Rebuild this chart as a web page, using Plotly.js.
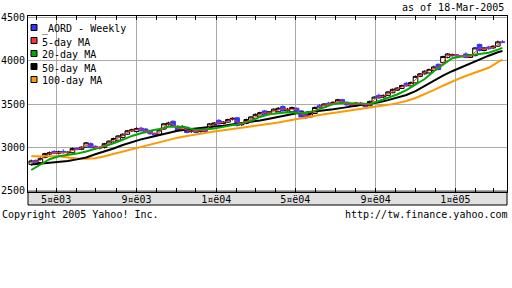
<!DOCTYPE html>
<html><head><meta charset="utf-8">
<script src="https://cdn.plot.ly/plotly-3.0.1.min.js"></script>
<style>html,body{margin:0;padding:0;background:#fff;}#chart{width:512px;height:288px;}</style>
</head><body><div id="chart"></div>
<script>
// ---- data (weekly, Monday dates starting 2003-03-24) ----
const startDate = '2003-03-24';
const weekCount = 104;
const openVals = [2800,2845,2820,2880,2920,2950,2930,2950,2935,2935,2985,2975,3000,3040,3010,2990,2995,3030,3060,3080,3110,3150,3190,3180,3220,3210,3185,3160,3150,3210,3260,3300,3240,3195,3230,3180,3205,3180,3220,3215,3260,3310,3275,3290,3320,3340,3260,3275,3300,3330,3360,3420,3380,3390,3410,3470,3420,3410,3450,3420,3380,3350,3390,3480,3460,3510,3500,3510,3550,3520,3500,3480,3510,3500,3480,3520,3600,3580,3600,3630,3660,3680,3740,3710,3745,3820,3850,3860,3890,3960,3980,4040,4060,4070,4060,4080,4040,4060,4190,4120,4160,4150,4170,4220];
const highVals = [2855,2860,2880,2935,2950,2965,2960,2975,2955,2995,3000,3010,3060,3055,3020,3010,3050,3080,3110,3140,3160,3200,3215,3230,3235,3220,3195,3170,3210,3280,3295,3310,3250,3255,3240,3205,3215,3210,3230,3280,3290,3325,3300,3330,3345,3350,3285,3330,3360,3390,3410,3430,3420,3450,3465,3485,3455,3470,3460,3430,3390,3400,3470,3500,3510,3525,3530,3560,3560,3530,3510,3525,3525,3510,3540,3590,3620,3610,3650,3680,3695,3725,3755,3760,3830,3860,3890,3910,3945,3970,4060,4090,4085,4080,4070,4100,4080,4160,4200,4160,4175,4180,4235,4240];
const lowVals = [2785,2805,2810,2870,2905,2920,2915,2925,2920,2925,2960,2965,2990,2985,2970,2975,2985,3020,3050,3075,3100,3140,3175,3170,3180,3160,3145,3130,3140,3200,3250,3230,3180,3185,3160,3165,3160,3170,3165,3205,3250,3260,3265,3280,3310,3240,3245,3265,3295,3325,3355,3370,3370,3385,3405,3410,3410,3400,3400,3340,3325,3340,3385,3450,3455,3480,3490,3505,3500,3480,3465,3470,3490,3460,3475,3515,3560,3570,3595,3625,3650,3675,3700,3705,3740,3810,3840,3855,3885,3890,3975,4030,4050,4045,4040,4030,4035,4055,4110,4110,4130,4140,4165,4205];
const closeVals = [2840,2820,2870,2925,2935,2930,2945,2935,2940,2985,2975,3000,3050,2995,2985,2995,3040,3070,3100,3130,3150,3190,3200,3215,3190,3170,3155,3140,3200,3270,3280,3240,3190,3240,3170,3190,3170,3195,3180,3270,3280,3270,3290,3320,3335,3250,3270,3320,3350,3380,3400,3380,3410,3440,3450,3420,3440,3460,3410,3350,3340,3390,3460,3460,3500,3490,3520,3550,3510,3490,3480,3510,3500,3470,3530,3580,3570,3600,3640,3670,3685,3715,3710,3750,3820,3850,3880,3900,3930,3900,4050,4080,4070,4060,4050,4040,4070,4150,4120,4150,4140,4170,4220,4215];
// 5-day moving average, read for every week
const ma5 = [2825,2830,2845,2895,2928,2938,2938,2942,2938,2960,2978,2990,3020,3015,2998,2993,3015,3050,3080,3105,3130,3170,3195,3200,3205,3190,3170,3150,3170,3235,3270,3270,3215,3215,3200,3185,3185,3188,3195,3240,3270,3288,3285,3305,3328,3295,3265,3295,3325,3355,3380,3400,3395,3415,3430,3445,3430,3440,3435,3385,3360,3365,3420,3470,3480,3500,3505,3530,3530,3505,3490,3495,3505,3490,3500,3550,3585,3590,3620,3650,3672,3698,3720,3730,3780,3835,3865,3885,3912,3930,3975,4060,4068,4065,4058,4055,4050,4100,4150,4135,4150,4155,4190,4215];
// slower moving averages, read every second week (week index in maWeek)
const maWeek = [0,2,4,6,8,10,12,14,16,18,20,22,24,26,28,30,32,34,36,38,40,42,44,46,48,50,52,54,56,58,60,62,64,66,68,70,72,74,76,78,80,82,84,86,88,90,92,94,96,98,100,102,103];
const ma20 = [2735,2800,2860,2895,2910,2925,2950,2980,3010,3045,3085,3130,3160,3190,3210,3235,3240,3225,3200,3205,3215,3235,3255,3275,3305,3350,3380,3395,3405,3400,3395,3420,3460,3500,3512,3508,3497,3500,3535,3575,3610,3660,3720,3790,3880,3960,4030,4050,4065,4080,4095,4130,4150];
const ma50 = [2800,2810,2818,2825,2840,2858,2880,2918,2950,2985,3025,3060,3090,3115,3140,3165,3190,3205,3218,3228,3238,3248,3262,3278,3292,3310,3330,3352,3372,3392,3402,3412,3425,3440,3455,3470,3485,3500,3520,3545,3575,3605,3650,3710,3765,3830,3880,3925,3975,4020,4060,4100,4115];
const ma100 = [2895,2897,2897,2893,2880,2868,2866,2872,2895,2922,2950,2980,3005,3035,3060,3085,3110,3130,3150,3165,3180,3195,3210,3225,3235,3250,3268,3285,3305,3325,3345,3365,3380,3395,3410,3425,3445,3458,3470,3490,3510,3535,3570,3612,3660,3712,3762,3805,3845,3880,3920,3985,4015];
// axis ticks and legend
const yTickVals = [2500,3000,3500,4000,4500];
const xTickVals = ['2003-05-01','2003-09-01','2004-01-01','2004-05-01','2004-09-01','2005-01-01'];
const xTickText = ['5¤ë03','9¤ë03','1¤ë04','5¤ë04','9¤ë04','1¤ë05'];
const legendLabels = ['_AORD - Weekly','5-day MA','20-day MA','50-day MA','100-day MA'];
const legendColors = ['#3333ff','#ff3333','#00aa00','#000000','#ff9900'];

// ---- build ----
function addDays(iso, n){const d=new Date(iso+'T00:00:00Z');d.setUTCDate(d.getUTCDate()+n);return d.toISOString().slice(0,10);}
const weekDates = [];
for(let i=0;i<weekCount;i++) weekDates.push(addDays(startDate,7*i));
const maDates = maWeek.map(i=>weekDates[i]);

const L=28,R=5,T=16,B=96,W=512-L-R,H=288-T-B;
const px=x=>(x-L)/W, py=y=>(T+H-y)/H;
const FONT='DejaVu Sans Mono';

function maTrace(xs,vals,color,w){return {type:'scatter',mode:'lines',x:xs,y:vals,line:{color:color,width:w},showlegend:false,hoverinfo:'skip'};}
const traces=[
  maTrace(maDates,ma100,legendColors[4],2),
  maTrace(maDates,ma50,legendColors[3],2),
  maTrace(maDates,ma20,legendColors[2],2),
  maTrace(weekDates,ma5,legendColors[1],1),
  {type:'candlestick',x:weekDates,open:openVals,high:highVals,low:lowVals,close:closeVals,
   increasing:{line:{color:'#000000',width:1},fillcolor:'#ffffff'},
   decreasing:{line:{color:'#3333ff',width:1},fillcolor:'#3333ff'},
   whiskerwidth:0,showlegend:false,hoverinfo:'skip'}
];

const shapes=[{type:'rect',xref:'paper',yref:'paper',x0:0,x1:1,y0:py(205),y1:0,fillcolor:'#e0e0e0',line:{color:'#000',width:1},layer:'below'}];
const annotations=[];
legendLabels.forEach((lab,i)=>{
  const cy=27.5+13*i;
  shapes.push({type:'rect',xref:'paper',yref:'paper',x0:px(31),x1:px(37),y0:py(cy+3),y1:py(cy-3),fillcolor:legendColors[i],line:{color:'#000',width:1},layer:'above'});
  annotations.push({xref:'paper',yref:'paper',x:px(40),y:py(cy+1.5),xanchor:'left',yanchor:'middle',text:lab,showarrow:false,font:{family:FONT,size:10,color:'#000'}});
});
annotations.push({xref:'paper',yref:'paper',x:px(506),y:py(7),xanchor:'right',yanchor:'middle',text:'as of 18-Mar-2005',showarrow:false,font:{family:FONT,size:10,color:'#000'}});
annotations.push({xref:'paper',yref:'paper',x:px(0),y:py(214),xanchor:'left',yanchor:'middle',text:'Copyright 2005 Yahoo! Inc.',showarrow:false,font:{family:FONT,size:10,color:'#000'}});
annotations.push({xref:'paper',yref:'paper',x:px(510),y:py(214),xanchor:'right',yanchor:'middle',text:'http://tw.finance.yahoo.com',showarrow:false,font:{family:FONT,size:10,color:'#000'}});

const layout={
  width:512,height:288,margin:{l:L,r:R,t:T,b:B,pad:0},
  paper_bgcolor:'#ffffff',plot_bgcolor:'#ffffff',showlegend:false,boxgap:0,boxgroupgap:0,
  xaxis:{type:'date',range:['2003-03-19','2005-03-21'],tickmode:'array',tickvals:xTickVals,ticktext:xTickText,
    showgrid:true,gridcolor:'#aaaaaa',gridwidth:1,ticks:'inside',ticklen:4,tickcolor:'#000',
    showline:true,linecolor:'#000',linewidth:1,mirror:'ticks',zeroline:false,
    minor:{dtick:'M1',tick0:'2003-01-01',ticks:'inside',ticklen:4,tickcolor:'#000',showgrid:false},
    rangeslider:{visible:false},tickfont:{family:FONT,size:10,color:'#000'},ticklabelstandoff:-2,fixedrange:true},
  yaxis:{range:[2480,4520],tickmode:'array',tickvals:yTickVals,showgrid:true,gridcolor:'#aaaaaa',gridwidth:1,
    ticks:'',showline:true,linecolor:'#000',linewidth:1,mirror:true,zeroline:false,
    tickfont:{family:FONT,size:10,color:'#000'},fixedrange:true},
  shapes:shapes,annotations:annotations
};
Plotly.newPlot('chart',traces,layout,{staticPlot:true,displayModeBar:false});
</script></body></html>
